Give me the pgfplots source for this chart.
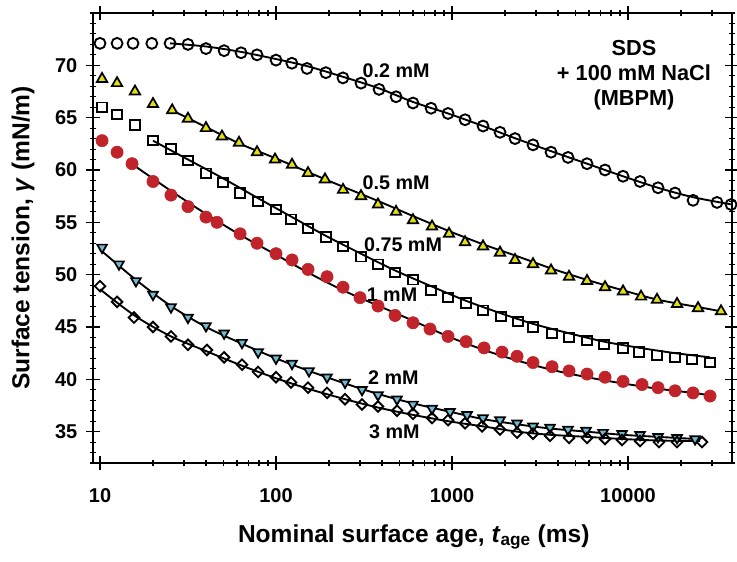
\documentclass[border=0pt]{standalone}
\usepackage{fontspec}
\setmainfont{Liberation Sans}
\usepackage{pgfplots}
\pgfplotsset{compat=1.18}
\definecolor{tri}{RGB}{225,222,20}
\definecolor{redc}{RGB}{192,36,42}
\definecolor{blu}{RGB}{110,188,212}
\begin{document}
\begin{tikzpicture}
\begin{semilogxaxis}[
  scale only axis, width=479.25pt, height=337.5pt,
  xmin=9.12, xmax=38980, ymin=32, ymax=75,
  xtick={10,100,1000,10000}, xticklabels={10,100,1000,10000},
  minor xtick={20,30,40,50,60,70,80,90,200,300,400,500,600,700,800,900,2000,3000,4000,5000,6000,7000,8000,9000,20000,30000},
  ytick={35,40,45,50,55,60,65,70},
  minor ytick={32,33,...,75},
  tick align=center, major tick length=10.5pt, minor tick length=5pt,
  axis line style={line width=1.3pt},
  major tick style={line width=1pt,black},
  minor tick style={line width=0.8pt,black},
  /pgf/number format/assume math mode=true,
  ticklabel style={font=\fontsize{15}{18}\selectfont\bfseries},
  xticklabel style={yshift=-10pt},
  yticklabel style={xshift=-3pt},
  xlabel={Nominal surface age, \textit{t}\textsubscript{age} (ms)},
  ylabel={Surface tension, \textit{γ} (mN/m)},
  every axis x label/.style={at={(axis description cs:0.502,-0.1644)},anchor=center,font=\fontsize{18.4}{22}\selectfont\bfseries},
  every axis y label/.style={at={(axis description cs:-0.1095,0.5)},rotate=90,anchor=center,font=\fontsize{18.4}{22}\selectfont\bfseries},
  clip=false,
]
% 0.2 mM
\addplot[only marks, mark=o, mark size=4.1pt, black, mark options={line width=1.4pt}] coordinates {
(10.0,72.1) (12.5,72.1) (15.4,72.1) (19.7,72.1) (25.0,72.1) (31.6,72.0) (40.0,71.6) (50.7,71.4) (63.3,71.2) (78.0,71.0) (100,70.5) (123,70.2) (150,69.7) (192,69.3) (240,68.8) (304,68.3) (385,67.7) (481,67.0) (600,66.4) (760,65.9) (949,65.4) (1186,64.8) (1500,64.2) (1874,63.6) (2280,63.0) (2885,62.4) (3652,61.7) (4562,61.2) (5848,60.6) (7401,60.0) (9367,59.4) (11700,58.9) (14805,58.3) (18493,57.8) (23414,57.1) (32040,56.9) (38500,56.7)};
% 0.5 mM
\addplot[only marks, mark=triangle*, mark size=4.5pt, mark options={fill=tri, draw=black, line width=1.3pt}] coordinates {
(10.27,68.7) (12.5,68.3) (15.8,67.5) (20.0,66.3) (25.7,65.7) (31.6,64.9) (40.0,64.0) (49.3,63.2) (61.6,62.6) (78.0,61.7) (98.7,61.0) (123.3,60.5) (152,59.7) (189.8,59.1) (240.3,58.1) (304,57.5) (379.7,56.7) (480.7,56.0) (600.1,55.2) (769.9,54.6) (961.6,53.9) (1185.6,53.1) (1500,52.7) (1874,52.1) (2280,51.4) (2885,51.0) (3652,50.4) (4622,49.8) (5848,49.4) (7401,48.8) (9367,48.4) (11855,47.9) (14611,47.6) (18986,47.2) (24990,46.8) (33760,46.5)};
% 0.75 mM
\addplot[only marks, mark=square, mark size=3.5pt, black, mark options={line width=1.4pt}] coordinates {
(10.27,66.0) (12.5,65.3) (15.8,64.3) (20.0,62.8) (25.3,62.0) (31.6,60.9) (40.0,59.7) (50.0,58.8) (62.5,57.8) (79.1,57.0) (100,56.2) (121.7,55.3) (152,54.4) (192.3,53.6) (240.3,52.7) (304,51.7) (379.7,51.0) (474.5,50.2) (600.1,49.5) (760,48.5) (949.1,47.8) (1201,47.3) (1500,46.6) (1899,46.0) (2371,45.5) (2885,45.0) (3701,44.4) (4622,44.0) (5848,43.7) (7305,43.3) (9367,43.0) (11548,42.6) (14611,42.3) (18493,42.1) (23100,41.9) (29240,41.6)};
% 1 mM
\addplot[only marks, mark=*, mark size=4.6pt, mark options={fill=redc, draw=redc}] coordinates {
(10.27,62.8) (12.5,61.7) (15.2,60.6) (20.0,58.9) (25.3,57.6) (31.6,56.5) (40.0,55.5) (46.2,55.0) (62.5,53.9) (78.0,53.0) (100,52.0) (123.3,51.4) (152,50.5) (194.9,49.8) (240.3,48.8) (300,47.8) (379.7,47.0) (474.5,46.1) (600.1,45.4) (749.9,44.8) (949.1,44.1) (1201,43.6) (1520,43.0) (1924,42.6) (2341,42.2) (2885,41.6) (3701,41.2) (4622,40.8) (5848,40.5) (7401,40.2) (9367,39.8) (12009,39.5) (14805,39.2) (18493,38.9) (23414,38.7) (29240,38.4)};
% 2 mM
\addplot[only marks, mark=triangle*, mark size=4.2pt, mark options={rotate=180, fill=blu, draw=black, line width=1.3pt}] coordinates {
(10.27,52.6) (12.82,51.0) (16.0,49.4) (20.0,48.1) (25.3,46.9) (31.6,45.9) (40.0,45.1) (50.7,44.4) (64.1,43.5) (79.1,42.6) (100,42.0) (123.3,41.5) (154,40.8) (194.9,40.2) (246.6,39.7) (308,39.0) (379.7,38.5) (486.9,38.1) (600.1,37.6) (769.9,37.2) (974,36.9) (1217,36.6) (1500,36.3) (1874,36.1) (2341,35.8) (2885,35.5) (3605,35.4) (4562,35.2) (5772,35.1) (7211,34.9) (9245,34.8) (11700,34.7) (14805,34.5) (18986,34.4) (24036,34.3)};
% 3 mM
\addplot[only marks, mark=square, mark size=2.8pt, black, mark options={rotate=45, line width=1.4pt}] coordinates {
(10.0,48.9) (12.5,47.4) (15.6,45.9) (20.0,45.0) (25.3,44.1) (31.6,43.3) (40.5,42.8) (50.7,42.1) (64.1,41.4) (79.1,40.7) (100,40.2) (121.7,39.7) (152,39.2) (194.9,38.7) (246.6,38.1) (308,37.6) (379.7,37.4) (486.9,37.0) (600.1,36.7) (769.9,36.3) (949.1,36.1) (1185.6,35.8) (1481,35.5) (1874,35.2) (2341,34.9) (2885,34.8) (3605,34.6) (4622,34.4) (5848,34.4) (7401,34.3) (9245,34.2) (11700,34.1) (15000,34.0) (18986,34.0) (26330,34.0)};
% fitted curves
\addplot[black, line width=1.4pt, smooth] coordinates {
(25,72.1) (40,71.8) (62.5,71.3) (100,70.6) (152,69.9) (240.3,68.9) (384.8,67.8) (600.1,66.5) (949.1,65.4) (1500,64.2) (2310,63.0) (3652,61.8) (5848,60.6) (9367,59.4) (14805,58.3) (23414,57.4) (38980,56.7)};
\addplot[black, line width=1.4pt, smooth] coordinates {
(25.7,65.7) (40,64.1) (62.5,62.5) (100,61.1) (152,59.8) (240.3,58.4) (384.8,57.0) (600.1,55.6) (949.1,54.2) (1500,52.9) (2310,51.8) (3652,50.6) (5848,49.5) (9367,48.5) (14805,47.6) (24990,46.9) (33760,46.5)};
\addplot[black, line width=1.4pt, smooth] coordinates {
(20.0,62.8) (31.6,61.0) (50,59.2) (79.1,57.3) (123.3,55.5) (192.3,53.7) (304,52.0) (474.5,50.4) (760,48.9) (1201,47.5) (1899,46.3) (2885,45.3) (4622,44.4) (7305,43.6) (11700,43.0) (18493,42.5) (29240,42.1)};
\addplot[black, line width=1.4pt, smooth] coordinates {
(15.4,60.5) (25.3,58.0) (40,55.8) (62.5,53.8) (100,51.9) (152,50.2) (240.3,48.5) (384.8,47.0) (600.1,45.6) (949.1,44.1) (1520,42.8) (2341,41.8) (3701,40.9) (5848,40.2) (9367,39.6) (14805,39.1) (23414,38.7) (28480,38.5)};
\addplot[black, line width=1.4pt, smooth] coordinates {
(10,52.4) (16,49.5) (25.3,47.0) (40,45.0) (64.1,43.4) (100,42.0) (154,40.8) (246.6,39.6) (379.7,38.6) (600.1,37.7) (974,36.9) (1500,36.2) (2341,35.7) (3605,35.3) (5772,35.0) (9245,34.7) (14805,34.5) (24036,34.3)};
\addplot[black, line width=1.4pt, smooth] coordinates {
(10,48.6) (16,46.0) (25.3,44.1) (40,42.7) (64.1,41.3) (100,40.1) (152,39.1) (246.6,38.1) (379.7,37.3) (600.1,36.6) (949.1,36.0) (1500,35.5) (2341,35.0) (3605,34.7) (5848,34.5) (9245,34.3) (15000,34.15) (25650,34.1)};
% labels
\begin{scope}[font=\fontsize{14.8}{18}\selectfont\bfseries]
\node at (axis cs:481,69.5) {0.2 mM};
\node at (axis cs:481,58.75) {0.5 mM};
\node at (axis cs:527,52.9) {0.75 mM};
\node at (axis cs:456,48.1) {1 mM};
\node at (axis cs:464,40.2) {2 mM};
\node at (axis cs:470,35.0) {3 mM};
\end{scope}
\node[align=center, font=\fontsize{16.3}{18.75}\selectfont\bfseries] at (axis cs:10810,69.1) {SDS\\+ 100 mM NaCl\\(MBPM)};
\coordinate (bbl) at (rel axis cs:-0.1455,-0.2178);
\coordinate (btr) at (rel axis cs:1.0078,1.0289);
\end{semilogxaxis}
\pgfresetboundingbox
\path[use as bounding box] (bbl) rectangle (btr);
\end{tikzpicture}
\end{document}
